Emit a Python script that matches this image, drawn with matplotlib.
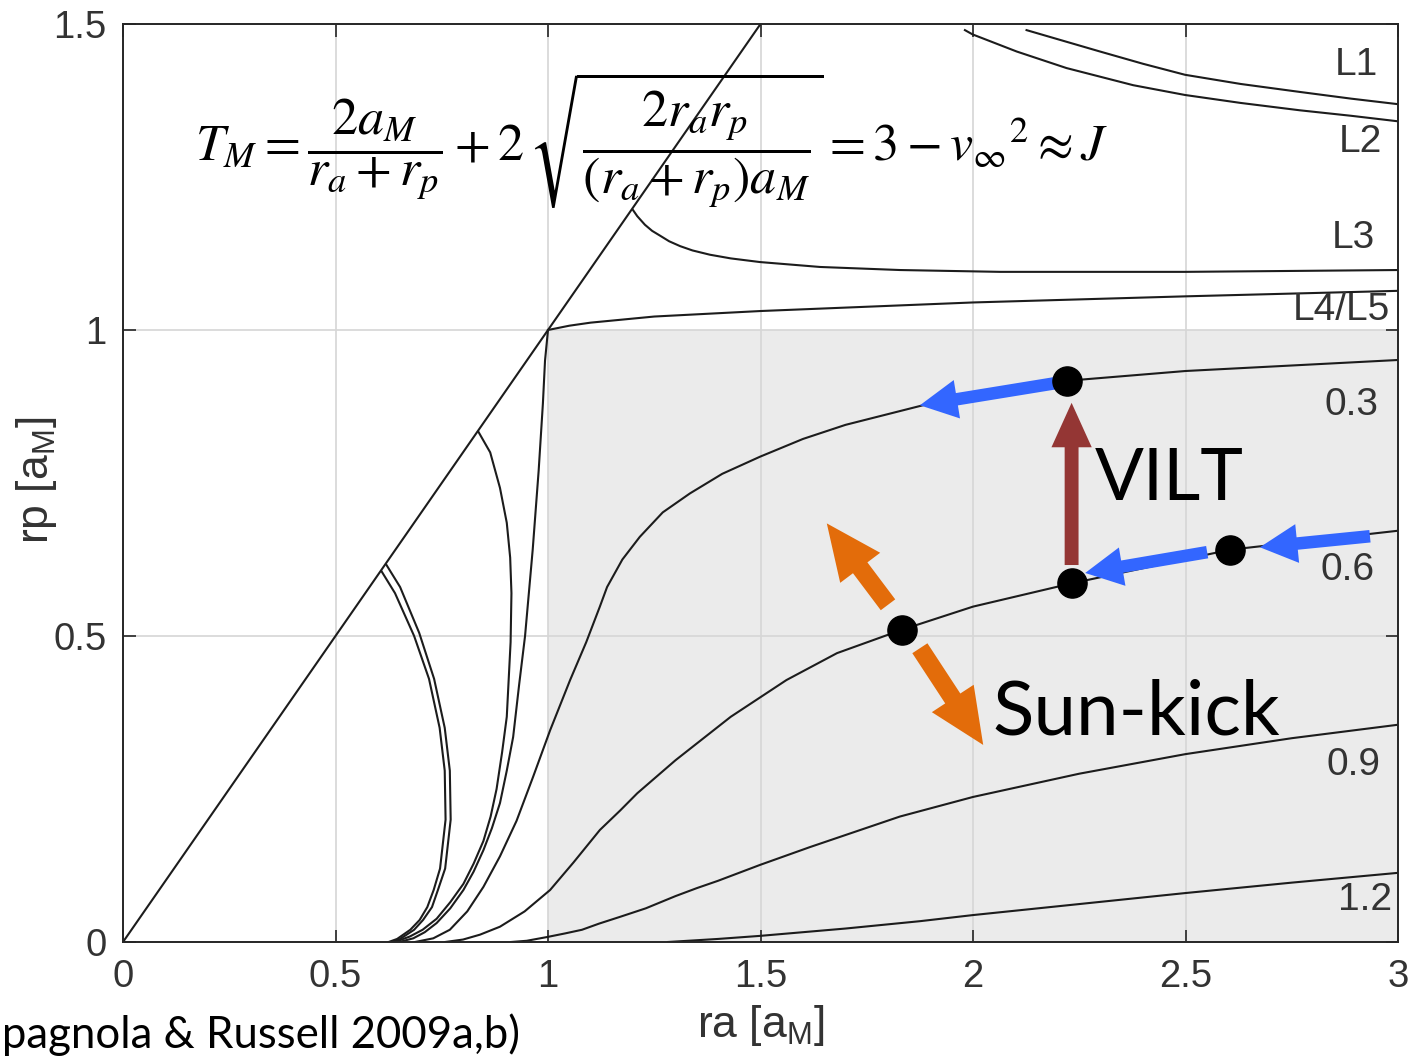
import matplotlib
matplotlib.use('Agg')
import matplotlib.pyplot as plt

# ---------------- Tisserand graph data (ra, rp in units of a_M) ----------------

diag_ra = [0.0, 1.5]
diag_rp = [0.0, 1.5]

# Lagrange-point levels, right-hand branches
l1_ra = [2.126, 2.205, 2.299, 2.40, 2.499, 2.63, 2.769, 2.89, 3.0]
l1_rp = [1.490, 1.474, 1.455, 1.435, 1.417, 1.402, 1.389, 1.378, 1.369]
l2_ra = [1.981, 1.999, 2.103, 2.220, 2.377, 2.499, 2.63, 2.769, 2.89, 3.0]
l2_rp = [1.490, 1.483, 1.455, 1.428, 1.400, 1.384, 1.371, 1.359, 1.350, 1.341]
l3_ra = [1.200, 1.210, 1.228, 1.245, 1.264, 1.285, 1.311, 1.34, 1.381, 1.43, 1.499, 1.640,
         1.828, 2.064, 2.5, 3.0]
l3_rp = [1.196, 1.186, 1.172, 1.162, 1.154, 1.145, 1.137, 1.130, 1.123, 1.117, 1.111, 1.103,
         1.098, 1.095, 1.095, 1.098]
l45_ra = [1.0, 1.05, 1.1, 1.25, 1.5, 1.75, 2.0, 2.5, 3.0]
l45_rp = [1.0, 1.007, 1.012, 1.022, 1.031, 1.038, 1.045, 1.055, 1.064]

# left-hand branches (inside the orbit of M)
l45b_ra = [1.0, 0.993, 0.988, 0.978, 0.964, 0.946, 0.932, 0.918, 0.903, 0.887, 0.868, 0.848,
           0.825, 0.801, 0.77, 0.738, 0.71, 0.683, 0.65]
l45b_rp = [1.0, 0.95, 0.88, 0.77, 0.641, 0.50, 0.42, 0.335, 0.28, 0.227, 0.186, 0.150,
           0.115, 0.085, 0.055, 0.031, 0.016, 0.006, 0.0]
l3b_ra = [0.836, 0.864, 0.887, 0.903, 0.911, 0.914, 0.912, 0.903, 0.892, 0.879, 0.865, 0.848,
          0.825, 0.801, 0.77, 0.738, 0.705, 0.675, 0.64]
l3b_rp = [0.834, 0.800, 0.742, 0.685, 0.628, 0.570, 0.490, 0.368, 0.31, 0.250, 0.205, 0.165,
          0.128, 0.095, 0.065, 0.038, 0.02, 0.009, 0.0]
l1b_ra = [0.609, 0.64, 0.685, 0.72, 0.745, 0.757, 0.759, 0.746, 0.731, 0.716, 0.698, 0.676,
          0.645, 0.625]
l1b_rp = [0.605, 0.57, 0.50, 0.43, 0.35, 0.28, 0.20, 0.12, 0.085, 0.057, 0.036, 0.02,
          0.005, 0.0]
l2b_ra = [0.620, 0.652, 0.697, 0.732, 0.757, 0.769, 0.771, 0.758, 0.741, 0.727, 0.706, 0.685,
          0.652, 0.632]
l2b_rp = [0.616, 0.58, 0.505, 0.43, 0.35, 0.28, 0.20, 0.12, 0.085, 0.057, 0.036, 0.02,
          0.005, 0.0]

# v_inf levels
v03_ra = [0.687, 0.73, 0.769, 0.81, 0.848, 0.887, 0.926, 0.965, 1.005, 1.052, 1.09, 1.122,
          1.139, 1.175, 1.216, 1.27, 1.334, 1.41, 1.499, 1.6, 1.70, 1.882, 2.05, 2.221, 2.5, 3.0]
v03_rp = [0.0, 0.006, 0.02, 0.05, 0.09, 0.14, 0.198, 0.27, 0.346, 0.428, 0.49, 0.548,
          0.580, 0.625, 0.662, 0.702, 0.733, 0.765, 0.793, 0.822, 0.845, 0.877, 0.899, 0.917,
          0.933, 0.951]
v06_ra = [0.758, 0.80, 0.84, 0.887, 0.945, 1.005, 1.06, 1.122, 1.17, 1.21, 1.255, 1.3, 1.43,
          1.561, 1.68, 1.832, 2.0, 2.232, 2.605, 3.0]
v06_rp = [0.0, 0.004, 0.012, 0.025, 0.05, 0.085, 0.13, 0.183, 0.215, 0.243, 0.27, 0.297, 0.368,
          0.428, 0.472, 0.510, 0.548, 0.586, 0.641, 0.672]
v09_ra = [0.913, 0.95, 0.997, 1.04, 1.08, 1.12, 1.169, 1.23, 1.3, 1.35, 1.4, 1.499, 1.616,
          1.828, 2.0, 2.25, 2.5, 2.75, 3.0]
v09_rp = [0.0, 0.002, 0.008, 0.014, 0.02, 0.03, 0.041, 0.055, 0.075, 0.088, 0.10, 0.126,
          0.155, 0.205, 0.237, 0.275, 0.307, 0.333, 0.355]
v12_ra = [1.282, 1.40, 1.499, 1.7, 1.875, 2.0, 2.25, 2.5, 2.75, 3.0]
v12_rp = [0.0, 0.005, 0.010, 0.022, 0.034, 0.044, 0.062, 0.080, 0.097, 0.113]

# reachable region (shaded)
shade_ra = [1.0, 3.0]
shade_top = 1.0

curve_names = ['L1', 'L2', 'L3', 'L4/L5', '0.3', '0.6', '0.9', '1.2']
label_ra = [2.953, 2.962, 2.946, 2.98, 2.953, 2.946, 2.958, 2.986]
label_rp = [1.433, 1.307, 1.150, 1.033, 0.877, 0.608, 0.289, 0.069]

# transfer sketch: states on the v_inf curves and the moves between them
dots_ra = [1.832, 2.232, 2.605, 2.221]
dots_rp = [0.510, 0.586, 0.641, 0.917]
blue_tail = [(2.193, 0.913), (2.551, 0.637), (2.934, 0.663)]
blue_tip = [(1.875, 0.877), (2.264, 0.603), (2.675, 0.645)]
vilt_tail, vilt_tip = (2.232, 0.616), (2.232, 0.881)
kick_tail = [(1.800, 0.551), (1.875, 0.480)]
kick_tip = [(1.656, 0.684), (2.024, 0.322)]

# ---------------- figure ----------------
W, H = 1414, 1058
fig = plt.figure(figsize=(W / 100, H / 100), dpi=100)
ax = fig.add_axes([123 / W, 116 / H, 1275 / W, 918 / H])

ax.fill_between(shade_ra, [0, 0], [shade_top, shade_top], color='#ebebeb', lw=0, zorder=0.1)

lc = '#1c1c1c'
for ra, rp in [(diag_ra, diag_rp), (l1_ra, l1_rp), (l2_ra, l2_rp), (l3_ra, l3_rp),
               (l45_ra, l45_rp), (l45b_ra, l45b_rp), (l3b_ra, l3b_rp), (l1b_ra, l1b_rp),
               (l2b_ra, l2b_rp), (v03_ra, v03_rp), (v06_ra, v06_rp), (v09_ra, v09_rp),
               (v12_ra, v12_rp)]:
    ax.plot(ra, rp, color=lc, lw=1.5, solid_joinstyle='round', zorder=2)

for name, x, y in zip(curve_names, label_ra, label_rp):
    ax.text(x, y, name, ha='right', va='center', fontsize=28, color='#333333',
            family='Liberation Sans', zorder=3)


def arrow(tail, tip, color, tw, hw, hl):
    ax.annotate('', xy=tip, xytext=tail, xycoords='data', textcoords='data',
                arrowprops=dict(arrowstyle=f'simple,head_length={hl},head_width={hw},tail_width={tw}',
                                mutation_scale=1, color=color, lw=0, shrinkA=0, shrinkB=0),
                zorder=5)


for t, h in zip(blue_tail, blue_tip):
    arrow(t, h, '#3366ff', 9, 28, 27)
arrow(vilt_tail, vilt_tip, '#943634', 10, 29, 32)
for t, h in zip(kick_tail, kick_tip):
    arrow(t, h, '#e36c0a', 13, 36, 40)

ax.plot(dots_ra, dots_rp, 'o', ms=21, color='black', zorder=6)

ax.text(2.287, 0.755, 'VILT', ha='left', va='center', fontsize=52, family='Lato', zorder=6)
ax.text(2.045, 0.374, 'Sun-kick', ha='left', va='center', fontsize=55, family='Lato', zorder=6)

fig.text(652 / W, 1 - 140 / H,
         r'$T_M=\dfrac{2a_M}{r_a+r_p}+2\,\sqrt{\dfrac{2r_ar_p}{(r_a+r_p)a_M}}=3-{v_\infty}^2\approx J$',
         ha='center', va='center', fontsize=37.5, math_fontfamily='stix')

fig.text(520 / W, 1 - 1035 / H, '(Campagnola & Russell 2009a,b)', ha='right', va='center',
         fontsize=31.5, family='Lato')

ax.set_xlim(0, 3)
ax.set_ylim(0, 1.5)
ax.set_xticks([0, 0.5, 1, 1.5, 2, 2.5, 3])
ax.set_xticklabels(['0', '0.5', '1', '1.5', '2', '2.5', '3'])
ax.set_yticks([0, 0.5, 1, 1.5])
ax.set_yticklabels(['0', '0.5', '1', '1.5'])
ax.tick_params(direction='in', top=True, right=True, length=9, width=1.2, color='#262626',
               labelsize=27.5, labelcolor='#333333', pad=12)
for lab in ax.get_xticklabels() + ax.get_yticklabels():
    lab.set_family('Liberation Sans')
ax.grid(True, color='#d6d6d6', lw=1.2)
ax.set_axisbelow(True)
for s in ax.spines.values():
    s.set_color('#262626')
    s.set_linewidth(1.4)

ax.set_xlabel(r'ra [a$_\mathregular{M}$]', fontsize=32, color='#333333', family='Liberation Sans',
              labelpad=6)
ax.set_ylabel(r'rp [a$_\mathregular{M}$]', fontsize=32, color='#333333', family='Liberation Sans')
ax.yaxis.set_label_coords(-0.050, 0.503)

fig.savefig('out.png', dpi=100)
